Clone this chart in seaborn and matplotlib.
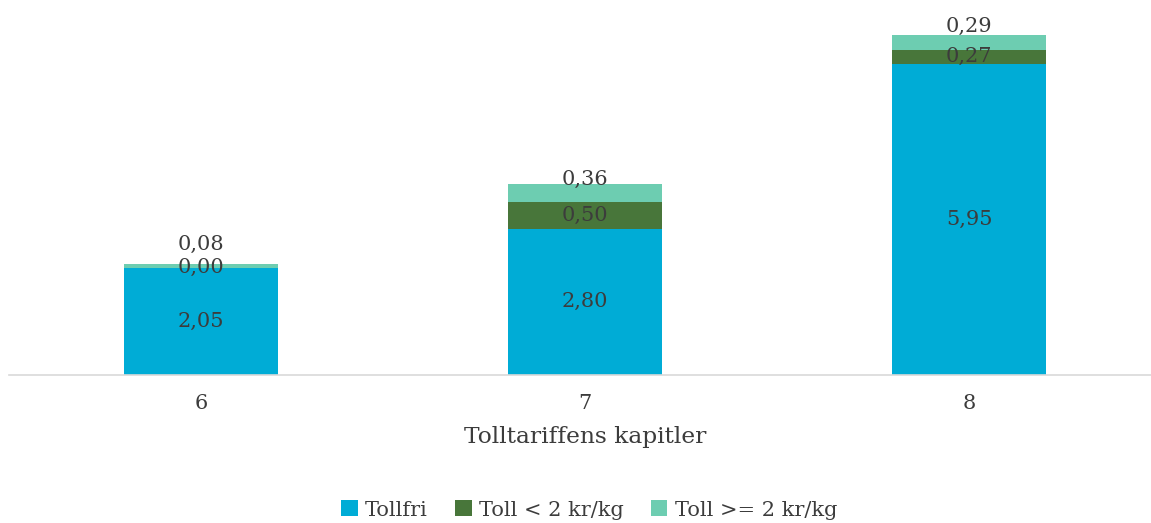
import matplotlib
matplotlib.use("Agg")
import matplotlib.pyplot as plt
import seaborn as sns
import pandas as pd
import numpy as np

# ---- data ----
chapters = ["6", "7", "8"]
tollfri = [2.05, 2.80, 5.95]
toll_lt2 = [0.00, 0.50, 0.27]
toll_ge2 = [0.08, 0.36, 0.29]
series_names = ["Tollfri", "Toll < 2 kr/kg", "Toll >= 2 kr/kg"]
x_title = "Tolltariffens kapitler"

# ---- style ----
colors = ["#00ACD6", "#48763A", "#6DCDB1"]
text_color = "#3C3C3C"
top_label_offsets_pt = [14, 3, 6]  # manual nudges of top-segment labels (points)

sns.set_theme(style="white")
plt.rcParams["font.family"] = ["DejaVu Serif"]

fig = plt.figure(figsize=(11.51, 5.23), dpi=100)
ax = fig.add_axes([9 / 1151, (523 - 375) / 523, 1152 / 1151, 366 / 523])

df = pd.DataFrame({"kapittel": chapters, "Tollfri": tollfri,
                   "lt2": toll_lt2, "ge2": toll_ge2})
bottom2 = np.array(tollfri)
bottom3 = np.array(tollfri) + np.array(toll_lt2)

common = dict(width=0.4, saturation=1, ax=ax, linewidth=0, edgecolor="none")
sns.barplot(data=df, x="kapittel", y="Tollfri", color=colors[0],
            label=series_names[0], **common)
sns.barplot(data=df, x="kapittel", y="lt2", color=colors[1],
            bottom=bottom2, label=series_names[1], **common)
sns.barplot(data=df, x="kapittel", y="ge2", color=colors[2],
            bottom=bottom3, label=series_names[2], **common)

handles, labels = ax.get_legend_handles_labels()
if ax.get_legend() is not None:
    ax.get_legend().remove()

ax.set_ylim(0, 7)
ax.set_xlim(-0.5, 2.5)

fmt = lambda v: f"{v:.2f}".replace(".", ",")
fs = 15
for i in range(len(chapters)):
    ax.text(i, tollfri[i] / 2, fmt(tollfri[i]), ha="center", va="center",
            fontsize=fs, color=text_color)
    ax.text(i, bottom2[i] + toll_lt2[i] / 2, fmt(toll_lt2[i]), ha="center",
            va="center", fontsize=fs, color=text_color)
    ax.annotate(fmt(toll_ge2[i]), (i, bottom3[i] + toll_ge2[i]),
                xytext=(0, top_label_offsets_pt[i]), textcoords="offset points",
                ha="center", va="center", fontsize=fs, color=text_color)

for s in ["top", "right", "left"]:
    ax.spines[s].set_visible(False)
ax.spines["bottom"].set_color("#D9D9D9")
ax.spines["bottom"].set_linewidth(1.2)
ax.set_yticks([])
ax.set_ylabel("")
ax.tick_params(axis="x", length=0, pad=14, labelsize=15, labelcolor=text_color)
ax.set_xlabel(x_title, fontsize=16.8, color=text_color, labelpad=9)

leg = fig.legend(handles, labels, loc="center",
                 bbox_to_anchor=(589 / 1151, 1 - 510 / 523),
                 ncol=3, frameon=False, fontsize=15, handlelength=0.8,
                 handleheight=0.8, handletextpad=0.35, columnspacing=1.3)
for t in leg.get_texts():
    t.set_color(text_color)

fig.savefig("out.png", dpi=100)
